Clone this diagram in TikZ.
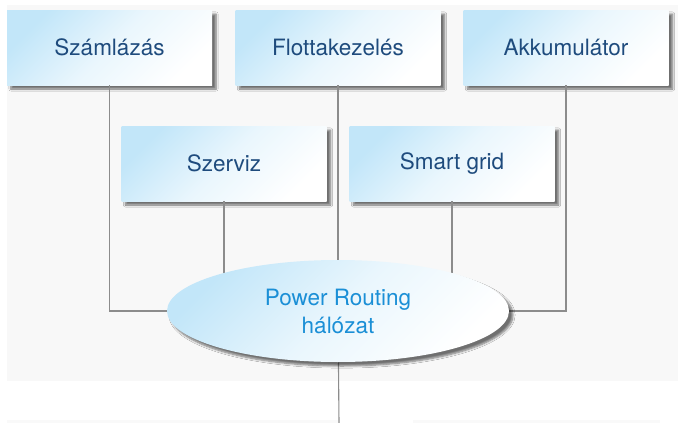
\documentclass[tikz,border=0pt]{standalone}
\usepackage{fontspec}
\setmainfont{TeX Gyre Heros}
\usetikzlibrary{shadows.blur,shapes.geometric}
\definecolor{boxblue}{HTML}{C2E6F9}
\definecolor{txtdark}{HTML}{1E4B7D}
\definecolor{txtlight}{HTML}{1B8FD6}
\definecolor{linegray}{HTML}{8C8C8C}
\definecolor{bggray}{HTML}{F8F8F8}
\tikzset{
  x=1pt, y=1pt,
  modbox/.style={draw=none, minimum width=205pt, minimum height=75pt, inner sep=0pt,
    left color=boxblue, right color=white, middle color=boxblue!35, shading angle=45,
    blur shadow={shadow xshift=4pt, shadow yshift=-4pt, shadow blur steps=6, shadow opacity=55},
    font=\fontsize{22.5}{27}\selectfont, text=txtdark},
  hub/.style={ellipse, draw=none, minimum width=342pt, minimum height=102pt, inner sep=0pt,
    left color=boxblue, right color=white, middle color=boxblue!35, shading angle=45,
    blur shadow={shadow xshift=4pt, shadow yshift=-4pt, shadow blur steps=6, shadow opacity=55},
    font=\fontsize{22.5}{28}\selectfont, text=txtlight, align=center},
  conn/.style={draw=linegray, line width=1.1pt}
}
\begin{document}
\begin{tikzpicture}
\useasboundingbox (0,0) rectangle (678,-423);
\fill[white] (0,0) rectangle (678,-423);
\fill[bggray] (7,-5) rectangle (678,-381);
\fill[black!2.5] (7,-420) rectangle (338,-423);
\fill[black!2.5] (413,-420) rectangle (660,-423);
\coordinate (bot) at (339,-423);
\node[modbox] (szam) at (109.5,-47.5) {Számlázás};
\node[modbox] (flotta) at (338,-47.5) {Flottakezelés};
\node[modbox] (akku) at (566,-47.5) {Akkumulátor};
\node[modbox] (szerv) at (224,-163.5) {Szerviz};
\node[modbox] (smart) at (452,-163.5) {Smart grid};
\coordinate (hubc) at (338,-311);
\draw[conn] (szam.south) |- (hubc);
\draw[conn] (akku.south) |- (hubc);
\draw[conn] (flotta.south) -- (hubc);
\draw[conn] (szerv.south) -- (szerv.south |- hubc);
\draw[conn] (smart.south) -- (smart.south |- hubc);
\draw[conn] (hubc) -- (bot);
\node[hub] (hub) at (hubc) {Power Routing\\hálózat};
\end{tikzpicture}
\end{document}
